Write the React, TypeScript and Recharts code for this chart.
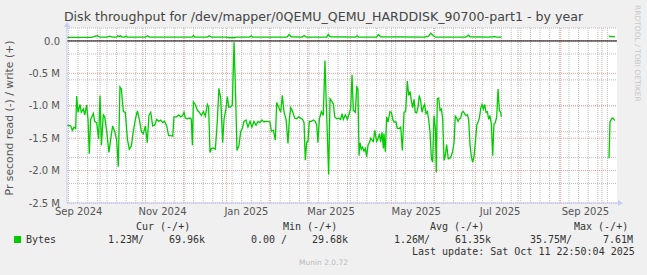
import { LineChart, Line, XAxis, YAxis, CartesianGrid, ReferenceLine, ReferenceDot } from "recharts";

document.body.style.margin = "0";

// day offsets from the graph start (Sep 6 2024 22:50, 400 days before last update)
const readDays = [
  0, 2.7, 3.9, 5.1, 6.3, 7.0, 8.0, 9.5, 10.4, 11.9, 12.9, 14.3, 15.3, 16.2, 17.2, 19.2, 20.1, 21.6, 23.0, 24.0,
  25.0, 26.4, 27.4, 28.8, 30.5, 31.8, 33.2, 34.7, 36.1, 37.3, 38.5, 39.5, 41.0, 42.4, 43.9, 45.3, 46.8, 48.2, 49.7, 51.2,
  52.6, 54.1, 55.5, 57.0, 58.4, 59.6, 60.9, 62.3, 63.8, 65.2, 66.7, 68.1, 69.6, 71.0, 72.5, 73.9, 75.4, 76.9, 77.8, 79.8,
  81.2, 82.7, 84.1, 85.1, 86.1, 87.5, 89.5, 90.4, 91.2, 91.9, 93.3, 94.8, 96.2, 97.7, 99.2, 100.6, 102.1, 103.0, 104.0, 105.0,
  106.4, 107.9, 109.3, 110.5, 111.8, 113.2, 114.2, 115.6, 116.6, 117.6, 119.0, 120.2, 121.5, 122.7, 123.6, 125.1, 126.3, 127.5, 128.7, 130.2,
  131.6, 133.1, 134.5, 136.0, 137.5, 138.9, 140.4, 141.8, 143.3, 144.7, 146.2, 147.6, 148.6, 150.1, 151.5, 152.5, 153.9, 155.4, 156.6, 157.8,
  159.3, 160.7, 161.7, 162.7, 164.1, 165.6, 167.0, 168.5, 169.9, 171.4, 172.4, 173.3, 174.3, 175.3, 176.2, 177.7, 179.2, 180.6, 181.6, 182.5,
  183.5, 185.0, 186.4, 187.6, 188.6, 189.3, 190.3, 191.3, 192.2, 193.7, 194.7, 196.1, 197.6, 199.0, 200.0, 201.0, 202.4, 203.9, 205.3, 206.3,
  207.3, 208.2, 209.7, 210.7, 211.6, 212.4, 213.1, 214.1, 215.0, 216.0, 217.0, 217.9, 218.9, 219.9, 220.9, 221.8, 222.8, 223.8, 225.2, 226.2,
  227.2, 228.1, 229.1, 230.1, 230.5, 231.5, 232.5, 233.5, 234.9, 235.9, 236.9, 237.8, 239.3, 240.2, 241.7, 242.7, 243.9, 245.1, 246.3, 247.5,
  248.5, 249.5, 250.4, 251.4, 252.4, 253.3, 254.3, 255.3, 256.2, 257.2, 258.2, 259.2, 260.1, 261.1, 262.1, 263.0, 264.0, 265.0, 265.9, 266.9,
  267.9, 268.6, 269.3, 270.3, 271.3, 272.2, 273.2, 274.2, 275.2, 276.1, 277.3, 278.5, 279.5, 280.5, 281.5, 282.4, 283.4, 284.4, 285.3, 286.3,
  287.3, 288.2, 289.2, 290.2, 291.2, 292.1, 293.1, 294.1, 295.0, 296.0, 297.0, 298.0, 298.9, 299.9, 300.9, 301.8, 302.8, 303.8, 304.7, 305.7,
  306.7, 307.6, 308.6, 309.6, 310.5, 311.5, 312.5, 313.5, 314.4, 315.4, 315.9,
  350,
  394.2, 394.9, 396.4, 397.3, 398.3,
];

// read bytes per second, in millions (negative = read)
const readValues = [
  -1.30, -1.31, -1.38, -1.33, -1.35, -0.85, -1.10, -0.98, -1.10, -1.05, -1.14, -0.99, -1.22, -1.74, -1.21, -1.12, -1.24, -1.26, -1.51, -0.84,
  -1.61, -1.14, -1.17, -1.38, -1.72, -1.51, -1.31, -1.40, -1.52, -1.94, -0.71, -0.74, -1.09, -1.10, -1.51, -1.67, -1.62, -1.40, -1.21, -1.08,
  -1.21, -1.40, -1.43, -1.31, -1.57, -1.15, -1.10, -1.31, -1.30, -1.21, -1.24, -1.22, -1.26, -1.24, -1.31, -1.46, -1.46, -1.47, -1.17, -1.17,
  -1.14, -1.17, -1.15, -1.10, -1.19, -1.20, -1.19, -1.21, -1.61, -0.94, -0.98, -1.07, -1.10, -1.15, -1.09, -1.16, -0.98, -1.02, -1.72, -1.66,
  -1.65, -1.67, -1.24, -0.73, -0.89, -1.57, -1.21, -1.05, -0.86, -1.02, -1.02, -0.99, -0.02, -0.89, -1.69, -1.61, -1.40, -1.35, -1.24, -1.22,
  -1.33, -1.24, -1.33, -1.24, -1.30, -1.24, -1.26, -1.22, -1.25, -1.24, -1.24, -1.25, -1.39, -1.38, -1.53, -0.95, -1.02, -1.10, -0.84, -1.09,
  -1.21, -1.58, -1.21, -1.03, -1.09, -1.19, -1.20, -1.17, -1.19, -1.21, -1.26, -1.84, -1.56, -1.55, -1.24, -1.24, -1.22, -1.24, -1.30, -1.57,
  -1.21, -1.09, -1.15, -0.30, -0.99, -1.43, -2.06, -0.89, -0.92, -0.97, -1.17, -1.20, -1.19, -1.21, -1.12, -1.21, -1.14, -1.21, -1.12, -1.04,
  -0.52, -1.07, -1.10, -0.71, -0.74, -1.77, -1.57, -1.67, -1.64, -1.70, -1.66, -1.79, -1.61, -1.57, -1.50, -1.53, -1.55, -1.38, -1.55, -1.51,
  -1.43, -1.56, -1.41, -1.66, -1.43, -1.71, -1.17, -1.25, -1.09, -1.10, -1.21, -1.25, -1.25, -1.35, -1.35, -1.33, -1.69, -1.10, -1.09, -0.62,
  -0.84, -0.78, -0.92, -1.03, -0.90, -1.10, -1.11, -1.02, -0.84, -0.92, -1.10, -1.02, -0.98, -1.12, -1.09, -1.21, -1.40, -1.81, -1.87, -1.15,
  -1.35, -2.03, -0.89, -0.88, -1.07, -1.05, -1.19, -1.84, -1.76, -1.60, -1.82, -1.81, -1.77, -1.70, -1.56, -1.16, -1.19, -1.24, -1.20, -1.19,
  -1.10, -1.09, -1.12, -1.15, -1.14, -1.21, -1.60, -1.79, -1.87, -1.79, -1.56, -1.30, -1.25, -1.19, -1.04, -0.98, -1.05, -0.98, -1.10, -1.09,
  -1.21, -1.15, -1.28, -1.77, -1.28, -1.26, -1.17, -0.74, -1.07, -1.10, -1.17,
  null,
  -1.81, -1.25, -1.19, -1.19, -1.23,
];

const writeDays = [
  0, 10, 18, 20, 22, 24, 29, 31, 33, 36, 37, 38, 39, 40, 42, 43, 44, 57, 58.5, 60,
  80, 91, 92, 93, 102, 103.5, 105, 116, 118, 120, 121.5, 123, 133, 134, 135, 160, 161.5, 163, 171, 172.5,
  174, 189, 190, 191.5, 210, 211, 212, 225, 226.5, 228, 260, 263, 264.5, 266.5, 268, 290, 292, 293, 306, 310,
  311, 312, 316, 350, 394, 395.5, 398.5,
];

// write bytes per second, in millions
const writeValues = [
  0.055, 0.055, 0.056, 0.07, 0.08, 0.06, 0.058, 0.075, 0.058, 0.06, 0.08, 0.07, 0.08, 0.06, 0.06, 0.075, 0.06, 0.06, 0.08, 0.06,
  0.06, 0.06, 0.085, 0.06, 0.06, 0.08, 0.06, 0.06, 0.05, 0.055, 0.05, 0.06, 0.06, 0.08, 0.06, 0.06, 0.1, 0.065, 0.06, 0.085,
  0.06, 0.06, 0.1, 0.065, 0.06, 0.08, 0.06, 0.06, 0.1, 0.065, 0.06, 0.075, 0.12, 0.08, 0.06, 0.06, 0.09, 0.065, 0.06, 0.065,
  0.07, 0.06, 0.06, null, 0.077, 0.066, 0.066,
];

const monthLabels = ["Sep 2024", "Nov 2024", "Jan 2025", "Mar 2025", "May 2025", "Jul 2025", "Sep 2025"];
const monthLabelDays = [8.5, 69.5, 130.5, 192, 254, 315, 377];
const monthStartDays = [24.05, 55.05, 85.05, 116.05, 147.05, 175.05, 206.05, 236.05, 267.05, 297.05, 328.05, 359.05, 389.05];
const weekStartDays = Array.from({ length: 57 }, (_, i) => 1.05 + 7 * i);

const yTicks = [-2.5, -2, -1.5, -1, -0.5, 0];
const minorY = Array.from({ length: 28 }, (_, i) => Math.round((-2.5 + i * 0.1) * 10) / 10);

const readData = readDays.map((day, i) => ({ day, read: readValues[i] }));
const writeData = writeDays.map((day, i) => ({ day, write: writeValues[i] }));

const GREEN = "#00CC00";
const AXIS = "#C4CCF4";
const GRID = "#BDBDBD";
const MGRID = "#EAA0A0";

const legendRow: React.CSSProperties = {
  position: "absolute",
  font: "10px 'DejaVu Sans Mono', monospace",
  color: "#333",
  whiteSpace: "pre",
  lineHeight: "12px",
};

function XArrow(props: any) {
  const { cx, cy } = props;
  return (
    <g>
      <line x1={cx - 2} y1={cy} x2={cx + 2} y2={cy} stroke={AXIS} />
      <path d={`M${cx + 1},${cy - 3} L${cx + 6},${cy} L${cx + 1},${cy + 3} Z`} fill={AXIS} />
    </g>
  );
}

function YArrow(props: any) {
  const { cx, cy } = props;
  return (
    <g>
      <line x1={cx} y1={cy + 2} x2={cx} y2={cy - 2} stroke={AXIS} />
      <path d={`M${cx - 3},${cy - 1} L${cx},${cy - 6} L${cx + 3},${cy - 1} Z`} fill={AXIS} />
    </g>
  );
}

export default function App() {
  return (
    <div style={{ position: "relative", width: 647, height: 275, background: "#F0F0F0", fontFamily: "'DejaVu Sans', sans-serif" }}>
      <div style={{ position: "absolute", left: 0, top: 9, width: 647, textAlign: "center", fontSize: 12.6, color: "#444", lineHeight: "15px" }}>
        Disk throughput for /dev/mapper/0QEMU_QEMU_HARDDISK_90700-part1 - by year
      </div>
      <div
        style={{
          position: "absolute", left: -90, top: 111, width: 200, textAlign: "center",
          fontSize: 10.8, color: "#555", lineHeight: "14px", transform: "rotate(-90deg)",
        }}
      >
        Pr second read (-) / write (+)
      </div>
      <div
        style={{
          position: "absolute", left: 633, top: 5, writingMode: "vertical-rl",
          fontSize: 7.5, color: "#C8C8C8", lineHeight: "9px", whiteSpace: "nowrap",
        }}
      >
        RRDTOOL / TOBI OETIKER
      </div>

      <div style={{ position: "absolute", left: 0, top: 0 }}>
        <LineChart width={647} height={275} margin={{ top: 28, right: 30, bottom: 52, left: 0 }}>
          <CartesianGrid
            fill="#FFFFFF"
            stroke={GRID}
            strokeDasharray="1 1"
            horizontalValues={minorY}
            verticalValues={weekStartDays}
          />
          <CartesianGrid
            stroke={MGRID}
            strokeDasharray="1 1"
            horizontalValues={yTicks}
            verticalValues={monthStartDays}
          />
          <XAxis
            type="number"
            dataKey="day"
            domain={[0, 400]}
            ticks={monthLabelDays}
            tickFormatter={(v: number) => monthLabels[monthLabelDays.indexOf(v)] ?? ""}
            allowDataOverflow
            height={20}
            tickLine={false}
            tickSize={0}
            tickMargin={5}
            axisLine={{ stroke: AXIS }}
            tick={{ fill: "#555", fontSize: 10, fontFamily: "'DejaVu Sans', sans-serif" }}
          />
          <YAxis
            type="number"
            domain={[-2.5, 0.2]}
            ticks={yTicks}
            tickFormatter={(v: number) => (v === 0 ? "0.0" : `${v.toFixed(1)} M`)}
            allowDataOverflow
            width={67}
            tickLine={false}
            tickSize={0}
            tickMargin={7}
            axisLine={{ stroke: AXIS }}
            tick={{ fill: "#555", fontSize: 10, fontFamily: "'DejaVu Sans', sans-serif" }}
          />
          <Line
            data={writeData}
            dataKey="write"
            type="linear"
            stroke={GREEN}
            strokeWidth={1.3}
            dot={false}
            activeDot={false}
            isAnimationActive={false}
          />
          <Line
            data={readData}
            dataKey="read"
            type="linear"
            stroke={GREEN}
            strokeWidth={1.3}
            dot={false}
            activeDot={false}
            isAnimationActive={false}
          />
          <ReferenceLine y={0} stroke="#000000" strokeWidth={1} />
          <ReferenceDot x={400} y={-2.5} r={0} ifOverflow="visible" shape={XArrow} />
          <ReferenceDot x={0} y={0.2} r={0} ifOverflow="visible" shape={YArrow} />
        </LineChart>
      </div>

      <div style={{ ...legendRow, left: 136, top: 221 }}>Cur (-/+)</div>
      <div style={{ ...legendRow, left: 283, top: 221 }}>Min (-/+)</div>
      <div style={{ ...legendRow, left: 430, top: 221 }}>Avg (-/+)</div>
      <div style={{ ...legendRow, left: 574, top: 221 }}>Max (-/+)</div>

      <div style={{ position: "absolute", left: 14, top: 236, width: 7, height: 7, background: GREEN }} />
      <div style={{ ...legendRow, left: 26, top: 234 }}>Bytes</div>
      <div style={{ ...legendRow, left: 108, top: 234 }}>1.23M/</div>
      <div style={{ ...legendRow, left: 169, top: 234 }}>69.96k</div>
      <div style={{ ...legendRow, left: 251, top: 234 }}>0.00 /</div>
      <div style={{ ...legendRow, left: 312, top: 234 }}>29.68k</div>
      <div style={{ ...legendRow, left: 394, top: 234 }}>1.26M/</div>
      <div style={{ ...legendRow, left: 455, top: 234 }}>61.35k</div>
      <div style={{ ...legendRow, left: 530, top: 234 }}>35.75M/</div>
      <div style={{ ...legendRow, left: 603, top: 234 }}>7.61M</div>

      <div style={{ ...legendRow, left: 412, top: 246 }}>Last update: Sat Oct 11 22:50:04 2025</div>

      <div style={{ position: "absolute", left: 0, top: 258, width: 647, textAlign: "center", fontSize: 7.5, color: "#BBBBBB", lineHeight: "10px" }}>
        Munin 2.0.72
      </div>
    </div>
  );
}
